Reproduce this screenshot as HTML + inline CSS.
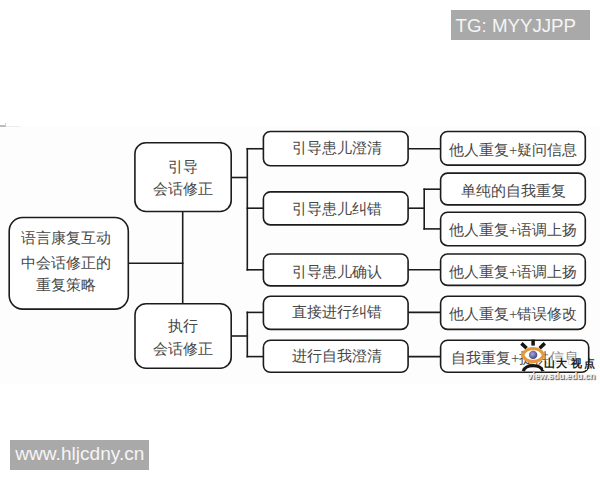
<!DOCTYPE html>
<html><head><meta charset="utf-8">
<style>
html,body{margin:0;padding:0;background:#fff;width:600px;height:480px;overflow:hidden;position:relative;}
.bg{position:absolute;left:0;top:126px;width:600px;height:258px;background:#fdfdfd;}
svg{position:absolute;left:0;top:0;}
.t{position:absolute;width:200px;height:20px;line-height:20px;text-align:center;white-space:nowrap;font-family:"Liberation Serif",serif;font-size:14.8px;color:#484848;}
.wm{position:absolute;background:#a9a9a9;color:#f5f5f5;font-family:"Liberation Sans",sans-serif;white-space:nowrap;}
.sd{position:absolute;font-family:"Liberation Sans",sans-serif;font-weight:900;color:#222;white-space:nowrap;}
</style></head><body>
<div class="bg"></div>
<div style="position:absolute;left:0;top:125px;width:6px;height:1.5px;background:#bdbdbd"></div><div style="position:absolute;left:5px;top:123px;width:1px;height:3px;background:#cfcfcf"></div><div style="position:absolute;left:6px;top:125.5px;width:14px;height:1px;background:#ececec"></div>
<svg width="600" height="480" viewBox="0 0 600 480"><g stroke="#1c1c1c" stroke-width="1.6" fill="#fff" stroke-linecap="square">
<line x1="128.3" y1="263.3" x2="182.7" y2="263.3"/>
<line x1="182.7" y1="211.5" x2="182.7" y2="303.75"/>
<line x1="231.2" y1="177.5" x2="247.3" y2="177.5"/>
<line x1="247.3" y1="148.75" x2="247.3" y2="269.8"/>
<line x1="247.3" y1="148.75" x2="263.4" y2="148.75"/>
<line x1="247.3" y1="208.2" x2="263.4" y2="208.2"/>
<line x1="247.3" y1="269.8" x2="263.4" y2="269.8"/>
<line x1="231.2" y1="336" x2="247.3" y2="336"/>
<line x1="247.3" y1="312.4" x2="247.3" y2="356.6"/>
<line x1="247.3" y1="312.4" x2="263.4" y2="312.4"/>
<line x1="247.3" y1="356.6" x2="263.4" y2="356.6"/>
<line x1="408.1" y1="148.75" x2="440.6" y2="148.75"/>
<line x1="408.1" y1="208.2" x2="424.2" y2="208.2"/>
<line x1="424.2" y1="189.2" x2="424.2" y2="228.9"/>
<line x1="424.2" y1="189.2" x2="440.6" y2="189.2"/>
<line x1="424.2" y1="228.9" x2="440.6" y2="228.9"/>
<line x1="408.1" y1="269.8" x2="440.6" y2="269.8"/>
<line x1="408.1" y1="312.4" x2="440.6" y2="312.4"/>
<line x1="408.1" y1="356.6" x2="440.6" y2="356.6"/>
<rect x="9.2" y="217.5" width="119.10" height="91.60" rx="13.5"/>
<rect x="134.9" y="142.75" width="96.30" height="68.75" rx="11"/>
<rect x="135" y="303.75" width="96.20" height="64.50" rx="11"/>
<rect x="263.4" y="131.5" width="144.70" height="34.30" rx="7"/>
<rect x="263.4" y="191.9" width="144.70" height="33.00" rx="7"/>
<rect x="263.4" y="254" width="144.70" height="31.90" rx="7"/>
<rect x="263.4" y="296.3" width="144.70" height="33.10" rx="7"/>
<rect x="263.4" y="340.2" width="144.70" height="32.10" rx="7"/>
<rect x="440.6" y="131.5" width="144.70" height="33.60" rx="7"/>
<rect x="440.6" y="173.1" width="144.70" height="31.80" rx="7"/>
<rect x="440.6" y="212.2" width="144.70" height="33.50" rx="7"/>
<rect x="440.6" y="254" width="144.70" height="31.40" rx="7"/>
<rect x="440.6" y="296.3" width="144.70" height="33.10" rx="7"/>
<rect x="440.6" y="340.2" width="148.10" height="32.10" rx="7"/>
</g></svg>
<div class="t" style="left:-34.10px;top:228.30px">语言康复互动</div>
<div class="t" style="left:-34.10px;top:252.80px">中会话修正的</div>
<div class="t" style="left:-34.50px;top:274.90px">重复策略</div>
<div class="t" style="left:82.70px;top:156.50px">引导</div>
<div class="t" style="left:82.70px;top:179.00px">会话修正</div>
<div class="t" style="left:82.70px;top:316.30px">执行</div>
<div class="t" style="left:82.70px;top:339.00px">会话修正</div>
<div class="t" style="left:237.00px;top:138.10px">引导患儿澄清</div>
<div class="t" style="left:237.00px;top:198.80px">引导患儿纠错</div>
<div class="t" style="left:237.00px;top:262.20px">引导患儿确认</div>
<div class="t" style="left:237.00px;top:302.00px">直接进行纠错</div>
<div class="t" style="left:237.00px;top:346.40px">进行自我澄清</div>
<div class="t" style="left:413.30px;top:140.00px">他人重复+疑问信息</div>
<div class="t" style="left:413.40px;top:181.00px">单纯的自我重复</div>
<div class="t" style="left:413.30px;top:220.30px">他人重复+语调上扬</div>
<div class="t" style="left:413.30px;top:261.50px">他人重复+语调上扬</div>
<div class="t" style="left:413.30px;top:304.00px">他人重复+错误修改</div>
<div class="t" style="left:415.20px;top:347.70px">自我重复+提供信息</div>
<svg class="logo" width="600" height="480" viewBox="0 0 600 480">
<defs><radialGradient id="ir" cx="0.42" cy="0.4" r="0.6"><stop offset="0" stop-color="#a8a8d8"/><stop offset="0.6" stop-color="#6c6caa"/><stop offset="1" stop-color="#3e3e78"/></radialGradient></defs>
<g stroke="#151515" stroke-width="3.5" stroke-linecap="butt" fill="none">
<line x1="533.1" y1="339.6" x2="533.1" y2="345.6"/>
<line x1="521.4" y1="343.4" x2="526.6" y2="348.2"/>
<line x1="544.8" y1="343.4" x2="539.6" y2="348.2"/>
<path d="M523.3 371.2 C525.2 363.8 541 363.8 542.9 371.2" stroke-width="3.2"/>
</g>
<path d="M522.6 355.1 C526 346.4 540.2 346.4 543.6 355.1 C540.2 363.6 526 363.6 522.6 355.1 Z" fill="#fff" stroke="#e49a3c" stroke-width="3.3" stroke-linejoin="round"/>
<circle cx="533.1" cy="354.9" r="4.2" fill="url(#ir)"/>
</svg>
<div style="position:absolute;left:546px;top:350px;width:37px;height:9.5px;background:rgba(255,255,255,0.35)"></div><div style="position:absolute;left:543px;top:359.5px;width:44px;height:10px;background:rgba(255,255,255,0.8)"></div>
<div class="sd" style="left:544px;top:358px;font-size:11px;line-height:11px">山</div>
<div class="sd" style="left:556px;top:358px;font-size:11px;line-height:11px">大</div>
<div class="sd" style="left:570.5px;top:358px;font-size:11px;line-height:11px">视</div>
<div class="sd" style="left:583.5px;top:358px;font-size:11px;line-height:11px">点</div>
<div class="sd" style="left:527.6px;top:372px;font-size:8.8px;line-height:9px;color:#f0f0f0;text-shadow:1px 1.2px 1px #3a3a3a">view.sdu.edu.cn</div>
<div class="wm" style="left:451px;top:10px;width:139px;height:30px;font-size:18.7px;line-height:32px;padding-left:4.6px;box-sizing:border-box">TG: MYYJJPP</div>
<div class="wm" style="left:10px;top:440px;width:139px;height:30px;font-size:19.1px;line-height:27px;padding-left:5.3px;box-sizing:border-box">www.hljcdny.cn</div>
</body></html>
